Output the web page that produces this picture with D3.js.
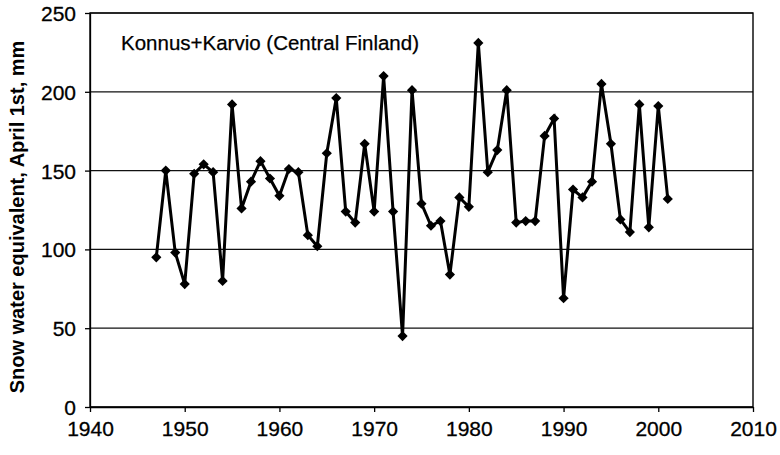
<!DOCTYPE html>
<html>
<head>
<meta charset="utf-8">
<script src="https://cdn.jsdelivr.net/npm/d3@7"></script>
<style>
    body { margin: 0; background: #fff; }
    svg { display: block; font-family: "Liberation Sans", Arial, Helvetica, sans-serif; }
    .gridLines line { stroke: #111; stroke-width: 1.2; }
    .axis path, .axis line { stroke: #000; stroke-width: 1.3; }
    .axis text { font-size: 21px; fill: #000; stroke: #000; stroke-width: 0.3; }
    .plotFrame { fill: none; stroke: #000; stroke-width: 1.4; }
    .series { fill: none; stroke: #000; stroke-width: 3; stroke-linejoin: miter; }
</style>
</head>
<body>
<script>
//wrap everything in a self-executing anonymous function
(function(){

    //years of observation
    var years = [1947, 1948, 1949, 1950, 1951, 1952, 1953, 1954, 1955, 1956,
                 1957, 1958, 1959, 1960, 1961, 1962, 1963, 1964, 1965, 1966,
                 1967, 1968, 1969, 1970, 1971, 1972, 1973, 1974, 1975, 1976,
                 1977, 1978, 1979, 1980, 1981, 1982, 1983, 1984, 1985, 1986,
                 1987, 1988, 1989, 1990, 1991, 1992, 1993, 1994, 1995, 1996,
                 1997, 1998, 1999, 2000, 2001];

    //snow water equivalent on April 1st, mm
    var swe = [95, 150, 98, 78, 148, 154, 149, 80, 192, 126,
               143, 156, 145, 134, 151, 149, 109, 102, 161, 196,
               124, 117, 167, 124, 210, 124, 45, 201, 129, 115,
               118, 84, 133, 127, 231, 149, 163, 201, 117, 118,
               118, 172, 183, 69, 138, 133, 143, 205, 167, 119,
               111, 192, 114, 191, 132];

    //axis ticks
    var xTicks = [1940, 1950, 1960, 1970, 1980, 1990, 2000, 2010];
    var yTicks = [0, 50, 100, 150, 200, 250];

    var titleText = "Konnus+Karvio (Central Finland)";
    var yLabelText = "Snow water equivalent, April 1st, mm";

    window.onload = setChart();

    function setChart(){
        //frame dimensions
        var width = 780,
            height = 455,
            left = 90,
            right = 753,
            top = 13,
            bottom = 407;

        var svg = d3.select("body")
            .append("svg")
            .attr("width", width)
            .attr("height", height);

        //scales
        var xScale = d3.scaleLinear()
            .domain([1940, 2010])
            .range([left, right]);

        var yScale = d3.scaleLinear()
            .domain([0, 250])
            .range([bottom, top]);

        //horizontal gridlines
        svg.append("g")
            .attr("class", "gridLines")
            .selectAll("line")
            .data(yTicks)
            .enter()
            .append("line")
            .attr("x1", left)
            .attr("x2", right)
            .attr("y1", function(d){ return yScale(d); })
            .attr("y2", function(d){ return yScale(d); });

        //y axis
        var yAxis = d3.axisLeft(yScale)
            .tickValues(yTicks)
            .tickSize(5)
            .tickPadding(9)
            .tickSizeOuter(0);

        svg.append("g")
            .attr("class", "axis")
            .attr("transform", "translate(" + left + ",0)")
            .call(yAxis)
            .selectAll("text")
            .attr("dy", "0.36em");

        //x axis
        var xAxis = d3.axisBottom(xScale)
            .tickValues(xTicks)
            .tickFormat(d3.format("d"))
            .tickSize(5)
            .tickPadding(9)
            .tickSizeOuter(0);

        svg.append("g")
            .attr("class", "axis")
            .attr("transform", "translate(0," + bottom + ")")
            .call(xAxis);

        //plot frame
        svg.append("rect")
            .attr("class", "plotFrame")
            .attr("x", left)
            .attr("y", top)
            .attr("width", right - left)
            .attr("height", bottom - top);

        //data line
        var line = d3.line()
            .x(function(d, i){ return xScale(years[i]); })
            .y(function(d){ return yScale(d); });

        svg.append("path")
            .datum(swe)
            .attr("class", "series")
            .attr("d", line);

        //diamond markers
        var diamond = d3.symbol().type(d3.symbolSquare).size(52);

        svg.selectAll(".marker")
            .data(swe)
            .enter()
            .append("path")
            .attr("class", "marker")
            .attr("d", diamond)
            .attr("fill", "#000")
            .attr("transform", function(d, i){
                return "translate(" + xScale(years[i]) + "," + yScale(d) + ") rotate(45)";
            });

        //station label inside the plot
        svg.append("text")
            .attr("x", 121)
            .attr("y", 50)
            .attr("font-size", "20.5px")
            .attr("stroke", "#000")
            .attr("stroke-width", 0.25)
            .text(titleText);

        //y axis title
        svg.append("text")
            .attr("transform", "translate(24," + ((top + bottom) / 2 + 7) + ") rotate(-90)")
            .attr("text-anchor", "middle")
            .attr("font-size", "20px")
            .attr("font-weight", "bold")
            .text(yLabelText);
    };
})();
</script>
</body>
</html>
